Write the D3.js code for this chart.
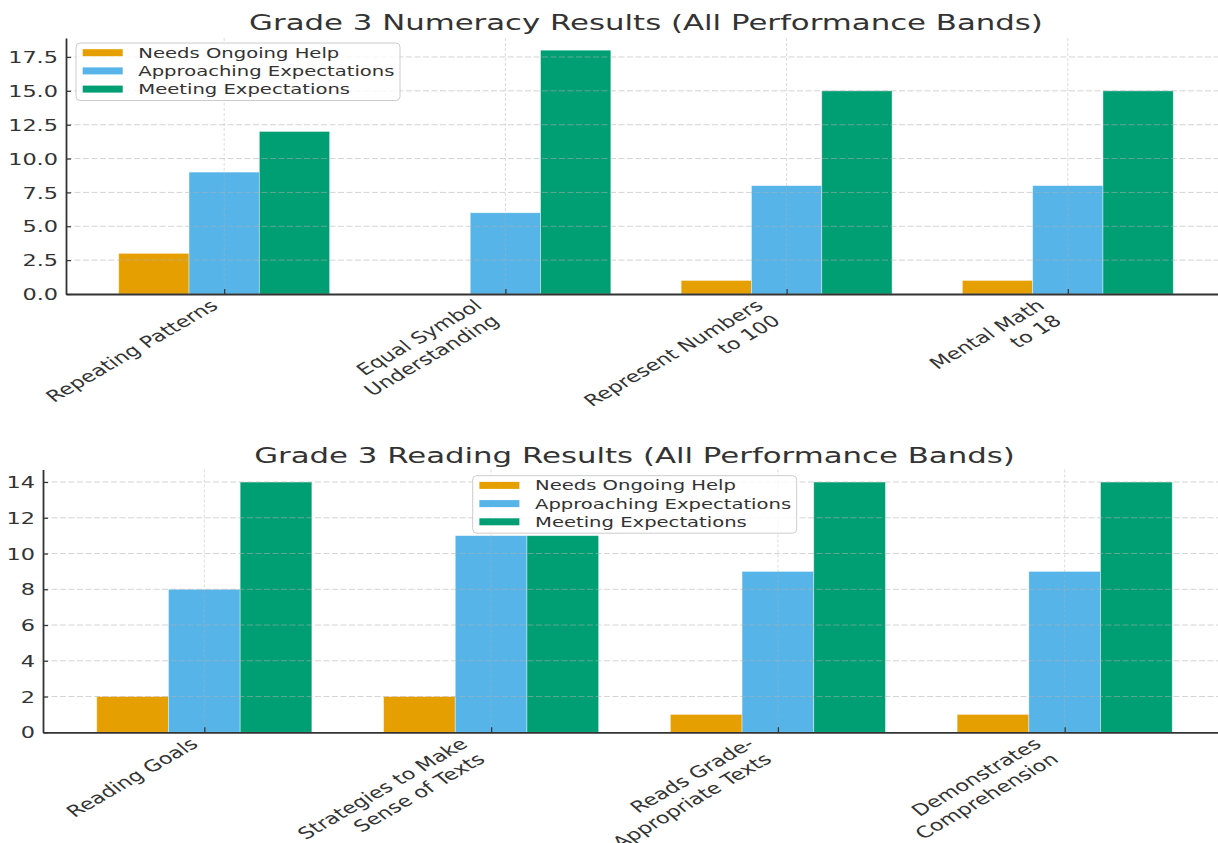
<!DOCTYPE html>
<html>
<head>
<meta charset="utf-8">
<script src="https://cdn.jsdelivr.net/npm/d3@7"></script>
<style>
  html, body { margin: 0; padding: 0; background: #fff; }
  svg { display: block; }
  text { font-family: "DejaVu Sans", sans-serif; fill: #333; }
</style>
</head>
<body>
<svg id="chart" width="1218" height="843"></svg>
<script>
// ---------------- data ----------------
const bands = ["Needs Ongoing Help", "Approaching Expectations", "Meeting Expectations"];
const bandColors = ["#E69F00", "#56B4E9", "#009E73"];

const numeracyTitle = "Grade 3 Numeracy Results (All Performance Bands)";
const numeracyCategories = ["Repeating Patterns", "Equal Symbol\nUnderstanding", "Represent Numbers\nto 100", "Mental Math\nto 18"];
const numeracyNeeds = [3, 0, 1, 1];
const numeracyApproaching = [9, 6, 8, 8];
const numeracyMeeting = [12, 18, 15, 15];
const numeracyYTicks = [0, 2.5, 5, 7.5, 10, 12.5, 15, 17.5];

const readingTitle = "Grade 3 Reading Results (All Performance Bands)";
const readingCategories = ["Reading Goals", "Strategies to Make\nSense of Texts", "Reads Grade-\nAppropriate Texts", "Demonstrates\nComprehension"];
const readingNeeds = [2, 2, 1, 1];
const readingApproaching = [8, 11, 9, 9];
const readingMeeting = [14, 11, 14, 14];
const readingYTicks = [0, 2, 4, 6, 8, 10, 12, 14];

// ---------------- layout ----------------
const SX = 1.4;          // horizontal stretch of the reference picture
const ROT = 39;          // label rotation (deg) before stretch
const svg = d3.select("#chart");

function sText(g, x, y, str, anchor, size) {
  return g.append("text")
    .attr("transform", `translate(${x},${y}) scale(${SX},1)`)
    .attr("text-anchor", anchor)
    .attr("font-size", size)
    .text(str);
}

function drawPanel(opt) {
  const { left, right, top, bottom, yMax, yTicks, yFmt, categories, series, title, titleY, legendPos } = opt;
  const g = svg.append("g");
  const x = d3.scaleLinear().domain([-0.5625, 3.5625]).range([left, right]);
  const y = d3.scaleLinear().domain([0, yMax]).range([bottom, top]);
  const bw = 0.25;

  // bars
  series.forEach((vals, si) => {
    g.append("g").selectAll("rect").data(vals).join("rect")
      .attr("x", (d, i) => x(i + (si - 1) * bw - bw / 2))
      .attr("width", x(bw) - x(0))
      .attr("y", d => y(d))
      .attr("height", d => y(0) - y(d))
      .attr("fill", bandColors[si])
      .attr("stroke", "#fff")
      .attr("stroke-opacity", 0.5)
      .attr("stroke-width", 0.8);
  });

  // grid (on top of bars)
  g.append("g").selectAll("line").data(yTicks.filter(t => t > 0)).join("line")
    .attr("x1", left).attr("x2", right)
    .attr("y1", d => y(d)).attr("y2", d => y(d))
    .attr("stroke", "#b0b0b0").attr("stroke-opacity", 0.55)
    .attr("stroke-width", 1).attr("stroke-dasharray", "6,2.5");
  g.append("g").selectAll("line").data(d3.range(categories.length)).join("line")
    .attr("x1", d => x(d)).attr("x2", d => x(d))
    .attr("y1", top).attr("y2", bottom)
    .attr("stroke", "#b0b0b0").attr("stroke-opacity", 0.55)
    .attr("stroke-width", 0.8).attr("stroke-dasharray", "3,2");

  // y axis
  const ya = g.append("g").attr("transform", `translate(${left},0)`)
    .call(d3.axisLeft(y).tickValues(yTicks).tickFormat(yFmt).tickSizeInner(-5).tickSizeOuter(0).tickPadding(8));
  ya.select(".domain").attr("stroke", "#333").attr("stroke-width", 1.8);
  ya.selectAll(".tick line").attr("stroke", "#333").attr("stroke-width", 1.2);
  ya.selectAll(".tick text")
    .attr("x", null).attr("dy", "0.35em")
    .attr("transform", `translate(-8,0) scale(${SX},1)`)
    .attr("font-size", 16).attr("font-family", "DejaVu Sans").attr("fill", "#333");

  // x axis
  const xa = g.append("g").attr("transform", `translate(0,${bottom})`)
    .call(d3.axisBottom(x).tickValues(d3.range(categories.length)).tickFormat("").tickSizeInner(-5).tickSizeOuter(0));
  xa.select(".domain").attr("stroke", "#333").attr("stroke-width", 1.8);
  xa.selectAll(".tick line").attr("stroke", "#333").attr("stroke-width", 1.2);

  // category labels (rotated, right aligned, multi-line)
  const fs = 16, lh = 19.5;
  const th = ROT * Math.PI / 180;
  categories.forEach((c, i) => {
    const lines = c.split("\n");
    const h = lines.length * lh;
    const ox = x(i) - SX * h * Math.sin(th) + 1;
    const oy = bottom + 3.5;
    const lg = g.append("g").attr("transform", `translate(${ox},${oy}) scale(${SX},1) rotate(${-ROT})`);
    lines.forEach((ln, li) => {
      lg.append("text").attr("x", 0).attr("y", fs * 0.8 + li * lh)
        .attr("text-anchor", "end").attr("font-size", fs).text(ln);
    });
  });

  // title
  sText(g, (left + right) / 2, titleY, title, "middle", 22);

  // legend
  const [lx, ly] = legendPos;
  const lw = 324, lhgt = 57.5;
  g.append("rect").attr("x", lx).attr("y", ly).attr("width", lw).attr("height", lhgt)
    .attr("rx", 4).attr("fill", "#fff").attr("fill-opacity", 0.8)
    .attr("stroke", "#cccccc").attr("stroke-width", 1);
  bands.forEach((b, bi) => {
    const cy = ly + 9.7 + bi * 18.2;
    g.append("rect").attr("x", lx + 6.7).attr("y", cy - 3.5).attr("width", 40).attr("height", 7)
      .attr("fill", bandColors[bi]);
    sText(g, lx + 62.3, cy + 5, b, "start", 14);
  });
}

drawPanel({
  left: 66, right: 1226, top: 38, bottom: 294, yMax: 18.9,
  yTicks: numeracyYTicks, yFmt: d3.format(".1f"),
  categories: numeracyCategories,
  series: [numeracyNeeds, numeracyApproaching, numeracyMeeting],
  title: numeracyTitle, titleY: 30,
  legendPos: [76, 43]
});

drawPanel({
  left: 43, right: 1226, top: 469.5, bottom: 732.3, yMax: 14.7,
  yTicks: readingYTicks, yFmt: d3.format("d"),
  categories: readingCategories,
  series: [readingNeeds, readingApproaching, readingMeeting],
  title: readingTitle, titleY: 462.7,
  legendPos: [472.7, 475.7]
});
</script>
</body>
</html>
